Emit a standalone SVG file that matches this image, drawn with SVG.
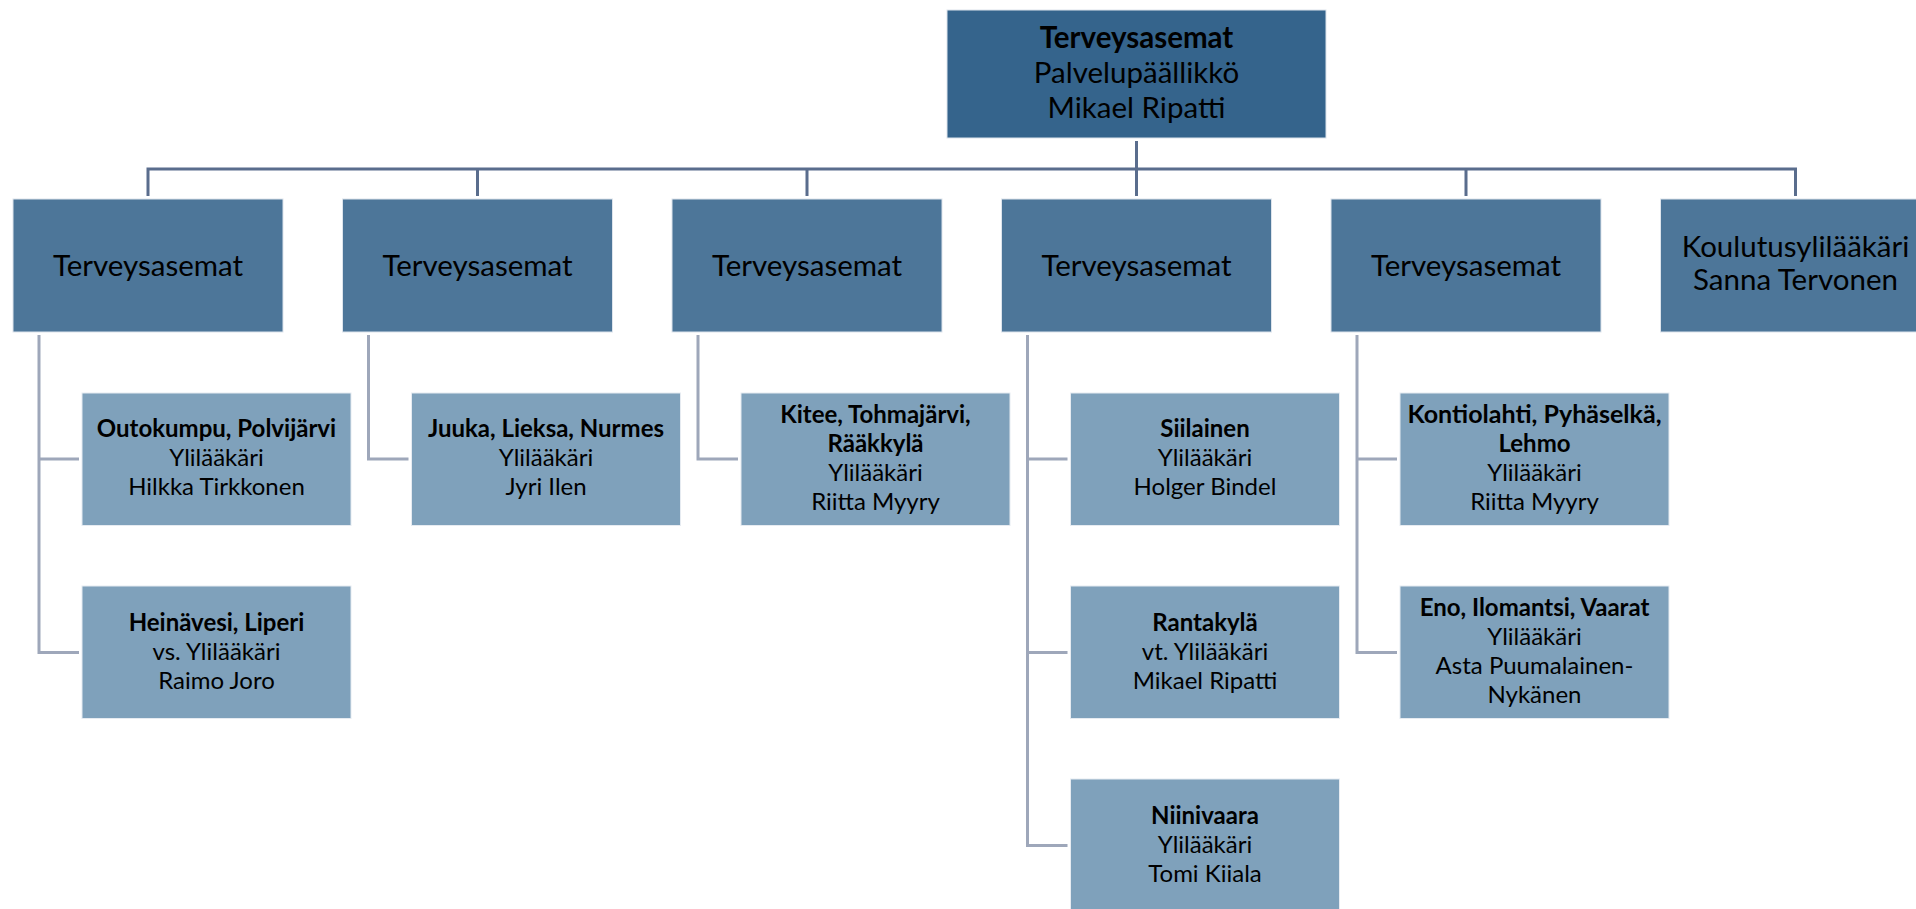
<svg xmlns="http://www.w3.org/2000/svg" width="1916" height="909" viewBox="0 0 1916 909">
<style>
.top{fill:#35648C;stroke:#DDE4EC;stroke-width:1}
.l2{fill:#4D7699;stroke:#DDE4EC;stroke-width:1}
.l3{fill:#7FA1BB;stroke:#E6EBF1;stroke-width:1}
text{font-family:Lato,"Open Sans","Liberation Sans",sans-serif;fill:#000;text-anchor:middle}
.t1{font-size:29.5px}
.t2{font-size:29.5px}
.t3{font-size:24px}
.b{font-weight:bold}
.bus{fill:none;stroke:#5A6D8D;stroke-width:3}
.sub{fill:none;stroke:#9EA7BA;stroke-width:3}
</style>
<g id="connectors">
<path class="bus" d="M1136.5,141 V196 M148,196 V169 H1795.5 V196 M477.5,169 V196 M807,169 V196 M1466,169 V196"/>
<path class="sub" d="M39,335 V652.5 H79 M39,459 H79"/>
<path class="sub" d="M368.5,335 V459 H408.5"/>
<path class="sub" d="M698,335 V459 H738"/>
<path class="sub" d="M1027.5,335 V845.5 H1067.5 M1027.5,459 H1067.5 M1027.5,652.5 H1067.5"/>
<path class="sub" d="M1357,335 V652.5 H1397 M1357,459 H1397"/>
</g>
<g id="n-top">
<rect class="top" x="947" y="10" width="379" height="128"/>
<text class="t1 b" x="1136.5" y="48">Terveysasemat</text>
<text class="t1" x="1136.5" y="83">Palvelupäällikkö</text>
<text class="t1" x="1136.5" y="118">Mikael Ripatti</text>
</g>
<g id="n-ta1"><rect class="l2" x="13" y="199" width="270" height="133"/><text class="t2" x="148" y="276">Terveysasemat</text></g>
<g id="n-ta2"><rect class="l2" x="342.5" y="199" width="270" height="133"/><text class="t2" x="477.5" y="276">Terveysasemat</text></g>
<g id="n-ta3"><rect class="l2" x="672" y="199" width="270" height="133"/><text class="t2" x="807" y="276">Terveysasemat</text></g>
<g id="n-ta4"><rect class="l2" x="1001.5" y="199" width="270" height="133"/><text class="t2" x="1136.5" y="276">Terveysasemat</text></g>
<g id="n-ta5"><rect class="l2" x="1331" y="199" width="270" height="133"/><text class="t2" x="1466" y="276">Terveysasemat</text></g>
<g id="n-koulutus"><rect class="l2" x="1660.5" y="199" width="270" height="133"/><text class="t2" x="1795.5" y="257">Koulutusylilääkäri</text><text class="t2" x="1795.5" y="290">Sanna Tervonen</text></g>

<g id="n-outokumpu"><rect class="l3" x="82" y="393" width="269" height="132.5"/>
<text class="t3 b" x="216.5" y="437">Outokumpu, Polvijärvi</text><text class="t3" x="216.5" y="466">Ylilääkäri</text><text class="t3" x="216.5" y="495">Hilkka Tirkkonen</text></g>
<g id="n-heinavesi"><rect class="l3" x="82" y="586" width="269" height="132.5"/>
<text class="t3 b" x="216.5" y="630.5">Heinävesi, Liperi</text><text class="t3" x="216.5" y="659.5">vs. Ylilääkäri</text><text class="t3" x="216.5" y="688.5">Raimo Joro</text></g>
<g id="n-juuka"><rect class="l3" x="411.5" y="393" width="269" height="132.5"/>
<text class="t3 b" x="546" y="437">Juuka, Lieksa, Nurmes</text><text class="t3" x="546" y="466">Ylilääkäri</text><text class="t3" x="546" y="495">Jyri Ilen</text></g>
<g id="n-kitee"><rect class="l3" x="741" y="393" width="269" height="132.5"/>
<text class="t3 b" x="875.5" y="422.5">Kitee, Tohmajärvi,</text><text class="t3 b" x="875.5" y="451.5">Rääkkylä</text><text class="t3" x="875.5" y="480.5">Ylilääkäri</text><text class="t3" x="875.5" y="509.5">Riitta Myyry</text></g>
<g id="n-siilainen"><rect class="l3" x="1070.5" y="393" width="269" height="132.5"/>
<text class="t3 b" x="1205" y="437">Siilainen</text><text class="t3" x="1205" y="466">Ylilääkäri</text><text class="t3" x="1205" y="495">Holger Bindel</text></g>
<g id="n-rantakyla"><rect class="l3" x="1070.5" y="586" width="269" height="132.5"/>
<text class="t3 b" x="1205" y="630.5">Rantakylä</text><text class="t3" x="1205" y="659.5">vt. Ylilääkäri</text><text class="t3" x="1205" y="688.5">Mikael Ripatti</text></g>
<g id="n-niinivaara"><rect class="l3" x="1070.5" y="779" width="269" height="132.5"/>
<text class="t3 b" x="1205" y="823.5">Niinivaara</text><text class="t3" x="1205" y="852.5">Ylilääkäri</text><text class="t3" x="1205" y="881.5">Tomi Kiiala</text></g>
<g id="n-kontiolahti"><rect class="l3" x="1400" y="393" width="269" height="132.5"/>
<text class="t3 b" x="1534.5" y="422.5" textLength="254" lengthAdjust="spacingAndGlyphs">Kontiolahti, Pyhäselkä,</text><text class="t3 b" x="1534.5" y="451.5">Lehmo</text><text class="t3" x="1534.5" y="480.5">Ylilääkäri</text><text class="t3" x="1534.5" y="509.5">Riitta Myyry</text></g>
<g id="n-eno"><rect class="l3" x="1400" y="586" width="269" height="132.5"/>
<text class="t3 b" x="1534.5" y="616">Eno, Ilomantsi, Vaarat</text><text class="t3" x="1534.5" y="645">Ylilääkäri</text><text class="t3" x="1534.5" y="674">Asta Puumalainen-</text><text class="t3" x="1534.5" y="703">Nykänen</text></g>
</svg>
